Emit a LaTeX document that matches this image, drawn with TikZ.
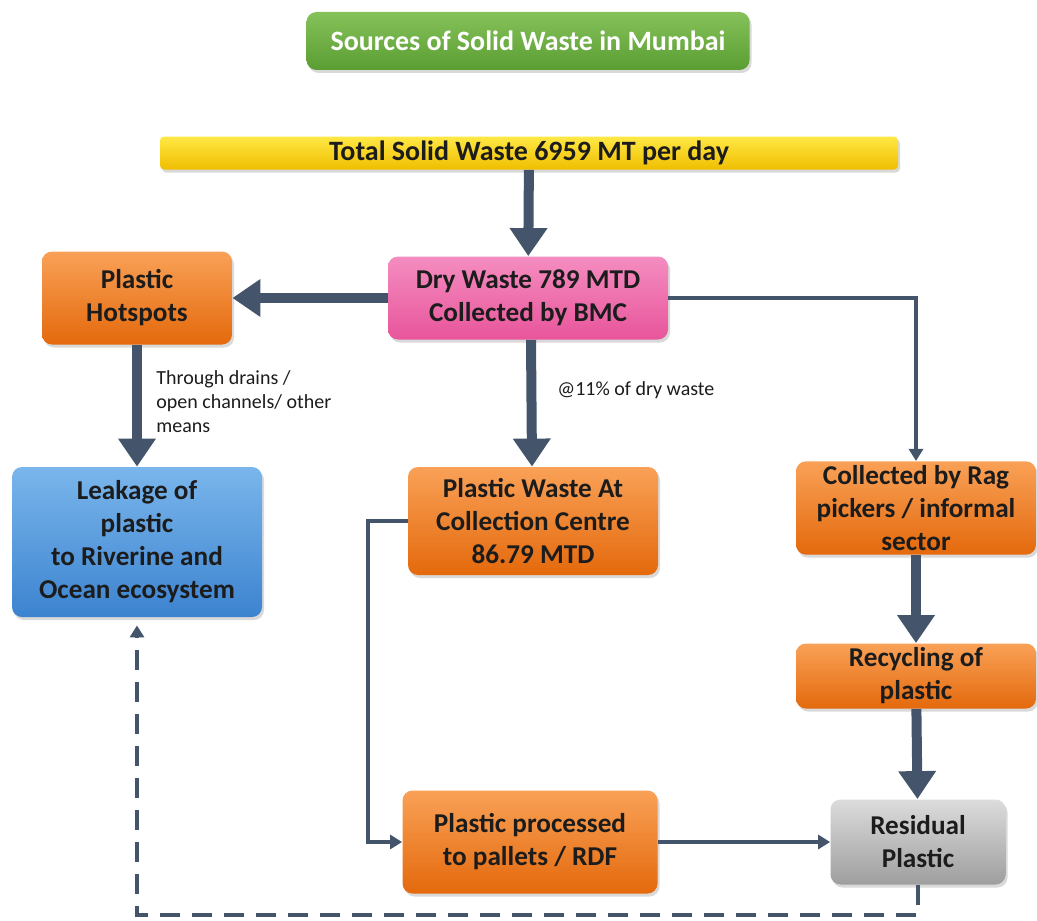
\documentclass[tikz,border=0pt]{standalone}
\usepackage{fontspec}
\setmainfont{Carlito}
\usetikzlibrary{arrows.meta,shadows}
\definecolor{slate}{HTML}{44546A}
\definecolor{inkdark}{HTML}{1C1C1C}
\definecolor{greentop}{HTML}{86C15A}
\definecolor{greenbot}{HTML}{5A9E33}
\definecolor{yellowtop}{HTML}{FFE845}
\definecolor{yellowbot}{HTML}{F0BE00}
\definecolor{pinktop}{HTML}{F48DC0}
\definecolor{pinkbot}{HTML}{E8559B}
\definecolor{orangetop}{HTML}{F9A157}
\definecolor{orangebot}{HTML}{E4690C}
\definecolor{bluetop}{HTML}{7AB6EC}
\definecolor{bluebot}{HTML}{3C83CF}
\definecolor{greytop}{HTML}{DCDCDC}
\definecolor{greybot}{HTML}{9E9E9E}

\begin{document}
\begin{tikzpicture}[x=0.5pt,y=-0.5pt,
font=\bfseries\fontsize{13.6}{16.5}\selectfont, text=inkdark,
box/.style={rounded corners=5pt,align=center,inner sep=2pt,
  drop shadow={opacity=0.3,shadow xshift=1pt,shadow yshift=-1.5pt}},
greenbox/.style={box,top color=greentop,bottom color=greenbot,text=white},
yellowbox/.style={box,rounded corners=2pt,top color=yellowtop,bottom color=yellowbot},
pinkbox/.style={box,top color=pinktop,bottom color=pinkbot},
orangebox/.style={box,top color=orangetop,bottom color=orangebot},
bluebox/.style={box,top color=bluetop,bottom color=bluebot},
greybox/.style={box,top color=greytop,bottom color=greybot},
fat/.style={line width=5pt,draw=slate,-{Triangle[width=18pt,length=14pt]}},
thin/.style={line width=2pt,draw=slate,-{Triangle[width=7pt,length=6pt]}},
note/.style={font=\fontsize{10}{12}\selectfont,align=left,inner sep=0pt}]
\useasboundingbox (0,0) rectangle (1037,920);

\node[greenbox,minimum width=221.5pt,minimum height=29pt,font=\bfseries\fontsize{14}{16}\selectfont] (title) at (528,41) {Sources of Solid Waste in Mumbai};
\node[yellowbox,minimum width=369pt,minimum height=16.5pt,font=\bfseries\fontsize{14}{16}\selectfont] (total) at (529,153) {Total Solid Waste 6959 MT per day};
\node[pinkbox,minimum width=140pt,minimum height=41.5pt] (dry) at (528,298) {Dry Waste 789 MTD\\Collected by BMC};
\node[orangebox,minimum width=95pt,minimum height=46.5pt] (hot) at (137,298) {Plastic\\Hotspots};
\node[bluebox,minimum width=125pt,minimum height=75pt] (leak) at (137,542) {Leakage of\\plastic\\to Riverine and\\Ocean ecosystem};
\node[orangebox,minimum width=125pt,minimum height=54pt] (pwaste) at (533,521) {Plastic Waste At\\Collection Centre\\86.79 MTD};
\node[orangebox,minimum width=120pt,minimum height=46.5pt] (rag) at (916,508) {Collected by Rag\\pickers / informal\\sector};
\node[orangebox,minimum width=120pt,minimum height=32.5pt] (recy) at (916,676) {Recycling of\\plastic};
\node[greybox,minimum width=87.5pt,minimum height=42.5pt] (resid) at (918,842) {Residual\\Plastic};
\node[orangebox,minimum width=127.5pt,minimum height=51.5pt] (proc) at (530,842) {Plastic processed\\to pallets / RDF};

\node[note,anchor=north west] (drains) at (156,370) {Through drains /\\open channels/ other\\means};
\node[note,anchor=west] (share) at (557,390) {@11\% of dry waste};

% main flow
\draw[fat] (total) -- (dry);
\draw[fat] (dry) -- (hot);
\draw[fat] (hot) -- (leak);
\draw[fat] ([xshift=1.5pt]dry.south) -- ([xshift=-0.5pt]pwaste.north);
\draw[thin] (dry.east) -| (rag.north);
\draw[fat] (rag) -- (recy);
\draw[fat] (recy) -- (resid);
\draw[thin] (pwaste.west) -- ++(-40,0) |- (proc.west);
\draw[thin] (proc) -- (resid);
\draw[thin,dash pattern=on 10pt off 6pt] (resid.south) -- ++(0,30) -| ([yshift=-4pt]leak.south);
\end{tikzpicture}
\end{document}
